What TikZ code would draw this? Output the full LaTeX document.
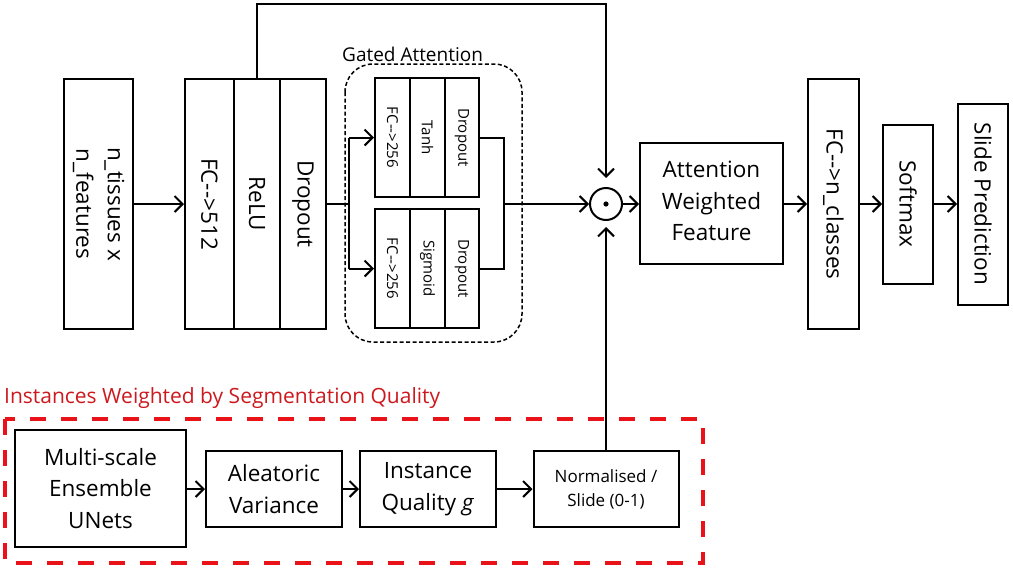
\documentclass[tikz,border=0pt]{standalone}
\usepackage{fontspec}
\setmainfont{Open Sans}
\usetikzlibrary{arrows.meta}
\definecolor{redline}{RGB}{232,18,24}
\definecolor{redtext}{RGB}{205,25,30}
\begin{document}
\begin{tikzpicture}[x=1pt,y=-1pt,
  box/.style={draw, line width=2pt, inner sep=0pt, align=center, font=\fontsize{22.5}{31.5}\selectfont},
  sbox/.style={box, font=\fontsize{15}{20}\selectfont},
  ln/.style={line width=2pt},
  arr/.style={line width=2pt, -{Straight Barb[length=8pt,width=16pt]}},
]
\useasboundingbox (0,0) rectangle (1013,571);

% input and first block
\node[box, minimum width=69pt, minimum height=250pt] (inp) at (98.5,204)
  {\rotatebox{-90}{\begin{tabular}{@{}c@{}}n\_tissues x\\n\_features\end{tabular}}};
\node[box, minimum width=49pt, minimum height=250pt] (fc512) at (209.5,204) {\rotatebox{-90}{FC-{}-{}>512}};
\node[box, minimum width=46pt, minimum height=250pt] (relu) at (257,204) {\rotatebox{-90}{ReLU}};
\node[box, minimum width=46pt, minimum height=250pt] (drop1) at (303,204) {\rotatebox{-90}{Dropout}};

% gated attention
\draw[line width=1.5pt, dash pattern=on 4pt off 2.5pt, rounded corners=28pt] (345,64) rectangle (522,342);
\node[anchor=base west, inner sep=0pt, font=\fontsize{19}{22}\selectfont] (glbl) at (342,61) {Gated Attention};

\node[sbox, minimum width=35pt, minimum height=119pt] (fcA) at (392.5,137.5) {\rotatebox{-90}{FC-{}-{}>256}};
\node[sbox, minimum width=35pt, minimum height=119pt] (tanh) at (427.5,137.5) {\rotatebox{-90}{Tanh}};
\node[sbox, minimum width=34pt, minimum height=119pt] (dropA) at (462,137.5) {\rotatebox{-90}{Dropout}};
\node[sbox, minimum width=35pt, minimum height=119pt] (fcB) at (392.5,268.5) {\rotatebox{-90}{FC-{}-{}>256}};
\node[sbox, minimum width=35pt, minimum height=119pt] (sig) at (427.5,268.5) {\rotatebox{-90}{Sigmoid}};
\node[sbox, minimum width=34pt, minimum height=119pt] (dropB) at (462,268.5) {\rotatebox{-90}{Dropout}};

\coordinate (split) at (349,204);
\coordinate (join) at (504,204);

% product
\node[circle, draw, line width=2pt, minimum size=32pt, inner sep=0pt] (odot) at (606,204) {};
\fill (odot.center) circle (2.6pt);

% right part
\node[box, minimum width=143pt, minimum height=121pt] (awf) at (711.5,203)
  {\raisebox{4pt}{\begin{tabular}{@{}c@{}}Attention\\Weighted\\Feature\end{tabular}}};
\node[box, minimum width=51pt, minimum height=250pt] (fcn) at (833.5,204) {\rotatebox{-90}{FC-{}-{}>n\_classes}};
\node[box, minimum width=50pt, minimum height=159pt] (soft) at (908,204) {\rotatebox{-90}{Softmax}};
\node[box, minimum width=50pt, minimum height=201pt] (slide) at (983,204) {\rotatebox{-90}{Slide Prediction}};

% bottom quality branch
\node[anchor=base west, inner sep=0pt, text=redtext, font=\fontsize{21}{25}\selectfont] (qlbl) at (4,403)
  {Instances Weighted by Segmentation Quality};
\draw[redline, line width=4.5pt, dash pattern=on 16pt off 15pt] (5,419) rectangle (703,563);

\node[box, minimum width=171pt, minimum height=117pt] (ms) at (100.5,488.5) {Multi-scale\\Ensemble\\UNets};
\node[box, minimum width=136pt, minimum height=76pt] (alea) at (274,489) {Aleatoric\\Variance};
\node[box, minimum width=136pt, minimum height=76pt] (iq) at (428,489) {Instance\\Quality \textit{g}};
\node[box, minimum width=145pt, minimum height=76pt, font=\fontsize{17}{24}\selectfont] (norm) at (606,489) {Normalised /\\Slide (0-1)};

% connectors
\draw[arr] (inp) -- (fc512);
\draw[arr, shorten >=9pt] (relu.north) -- ++(0,-74) -| (odot.north);
\draw[ln] (drop1.east) -- (split);
\draw[ln] (split |- fcA.west) -- (split |- fcB.west);
\draw[arr] (split |- fcA.west) -- (fcA.west);
\draw[arr] (split |- fcB.west) -- (fcB.west);
\draw[ln] (dropA.east) -- (dropA.east -| join) -- (dropB.east -| join) -- (dropB.east);
\draw[arr] (join) -- (odot.west);
\draw[arr] (odot.east) -- (odot.east -| awf.west);
\draw[arr] (awf.east |- fcn.west) -- (fcn.west);
\draw[arr] (fcn.east) -- (soft.west);
\draw[arr] (soft.east) -- (slide.west);
\draw[arr] (ms.east |- alea.west) -- (alea.west);
\draw[arr] (alea.east) -- (iq.west);
\draw[arr] (iq.east) -- (norm.west);
\draw[arr, shorten >=6pt] (norm.north) -- (odot.south);
\end{tikzpicture}
\end{document}
